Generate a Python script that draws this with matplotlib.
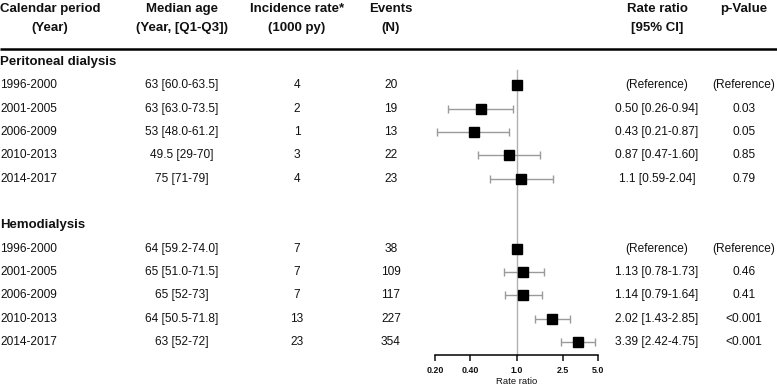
import matplotlib
matplotlib.use("Agg")
import matplotlib.pyplot as plt
from matplotlib.ticker import FixedLocator, FixedFormatter, NullLocator

plt.rcParams['font.family'] = ['Liberation Sans', 'DejaVu Sans']

# ---------------- data ----------------
groups = ["Peritoneal dialysis", "Hemodialysis"]
periods = ["1996-2000", "2001-2005", "2006-2009", "2010-2013", "2014-2017"]

pd_age = ["63 [60.0-63.5]", "63 [63.0-73.5]", "53 [48.0-61.2]", "49.5 [29-70]", "75 [71-79]"]
pd_incidence = ["4", "2", "1", "3", "4"]
pd_events = ["20", "19", "13", "22", "23"]
pd_rr = [1.0, 0.50, 0.43, 0.87, 1.1]
pd_lo = [None, 0.26, 0.21, 0.47, 0.59]
pd_hi = [None, 0.94, 0.87, 1.60, 2.04]
pd_rr_text = ["(Reference)", "0.50 [0.26-0.94]", "0.43 [0.21-0.87]", "0.87 [0.47-1.60]", "1.1 [0.59-2.04]"]
pd_p = ["(Reference)", "0.03", "0.05", "0.85", "0.79"]

hd_age = ["64 [59.2-74.0]", "65 [51.0-71.5]", "65 [52-73]", "64 [50.5-71.8]", "63 [52-72]"]
hd_incidence = ["7", "7", "7", "13", "23"]
hd_events = ["38", "109", "117", "227", "354"]
hd_rr = [1.0, 1.13, 1.14, 2.02, 3.39]
hd_lo = [None, 0.78, 0.79, 1.43, 2.42]
hd_hi = [None, 1.73, 1.64, 2.85, 4.75]
hd_rr_text = ["(Reference)", "1.13 [0.78-1.73]", "1.14 [0.79-1.64]", "2.02 [1.43-2.85]", "3.39 [2.42-4.75]"]
hd_p = ["(Reference)", "0.46", "0.41", "<0.001", "<0.001"]

headers1 = ["Calendar period", "Median age", "Incidence rate*", "Events", "Rate ratio", "p-Value"]
headers2 = ["(Year)", "(Year, [Q1-Q3])", "(1000 py)", "(N)", "[95% CI]", ""]

tick_vals = [0.2, 0.4, 1.0, 2.5, 5.0]
tick_labels = ["0.20", "0.40", "1.0", "2.5", "5.0"]
xlabel = "Rate ratio"

# ---------------- layout ----------------
W, H = 777, 386
fig = plt.figure(figsize=(W / 100, H / 100), dpi=100)
fig.patch.set_facecolor("white")

ax = fig.add_axes([0, 0, 1, 1])
ax.set_xlim(0, W)
ax.set_ylim(H, 0)
ax.axis("off")

FS = 8.6
FSB = 9.5
TXT = "#111111"

hdr_x = [50, 182, 297, 391, 657, 744]
hdr_y1, hdr_y2 = 9, 28
for x, t1, t2 in zip(hdr_x, headers1, headers2):
    ax.text(x, hdr_y1, t1, ha="center", va="center", fontsize=FSB, fontweight="bold", color=TXT)
    if t2:
        ax.text(x, hdr_y2, t2, ha="center", va="center", fontsize=FSB, fontweight="bold", color=TXT)

ax.plot([0, W], [48.5, 48.5], color="black", lw=1.8, solid_capstyle="butt")

row0 = 62.0
step = 23.33

def row_y(i):
    return row0 + i * step

# forest axes
fa = fig.add_axes([435 / W, 0, 163 / W, 1])
fa.patch.set_alpha(0)
fa.set_xscale("log")
fa.set_xlim(0.2, 5.0)
fa.set_ylim(H, 0)
for s in ["top", "left", "right"]:
    fa.spines[s].set_visible(False)
axis_y = 354.5
fa.spines["bottom"].set_position(("data", axis_y))
fa.spines["bottom"].set_linewidth(1.1)
fa.xaxis.set_major_locator(FixedLocator(tick_vals))
fa.xaxis.set_major_formatter(FixedFormatter(tick_labels))
fa.xaxis.set_minor_locator(NullLocator())
fa.tick_params(axis="x", direction="out", length=4, width=1.1, labelsize=6.4, pad=4, colors=TXT)
for lbl in fa.get_xticklabels():
    lbl.set_fontweight("bold")
fa.set_yticks([])

fa.plot([1.0, 1.0], [70, axis_y], color="#b0b0b0", lw=1.0, zorder=1)
ax.text(516.5, 381, xlabel, ha="center", va="center", fontsize=6.8, color=TXT)

def draw_group(start, name, age, inc, ev, rr, lo, hi, rrt, pv):
    ax.text(0.5, row_y(start), name, ha="left", va="center", fontsize=FSB, fontweight="bold", color=TXT)
    for k in range(len(periods)):
        y = row_y(start + 1 + k)
        ax.text(0.5, y, periods[k], ha="left", va="center", fontsize=FS, color=TXT)
        ax.text(hdr_x[1], y, age[k], ha="center", va="center", fontsize=FS, color=TXT)
        ax.text(hdr_x[2], y, inc[k], ha="center", va="center", fontsize=FS, color=TXT)
        ax.text(hdr_x[3], y, ev[k], ha="center", va="center", fontsize=FS, color=TXT)
        ax.text(hdr_x[4], y, rrt[k], ha="center", va="center", fontsize=FS, color=TXT)
        ax.text(hdr_x[5], y, pv[k], ha="center", va="center", fontsize=FS, color=TXT)
        if lo[k] is not None:
            fa.errorbar([rr[k]], [y], xerr=[[rr[k] - lo[k]], [hi[k] - rr[k]]], fmt="none",
                        ecolor="#9a9a9a", elinewidth=1.0, capsize=3.0, capthick=1.0, zorder=2)
        fa.plot([rr[k]], [y], marker="s", markersize=7.8, color="black", linestyle="none", zorder=3)

draw_group(0, groups[0], pd_age, pd_incidence, pd_events, pd_rr, pd_lo, pd_hi, pd_rr_text, pd_p)
draw_group(7, groups[1], hd_age, hd_incidence, hd_events, hd_rr, hd_lo, hd_hi, hd_rr_text, hd_p)

fig.savefig("out.png", dpi=100, facecolor="white")
